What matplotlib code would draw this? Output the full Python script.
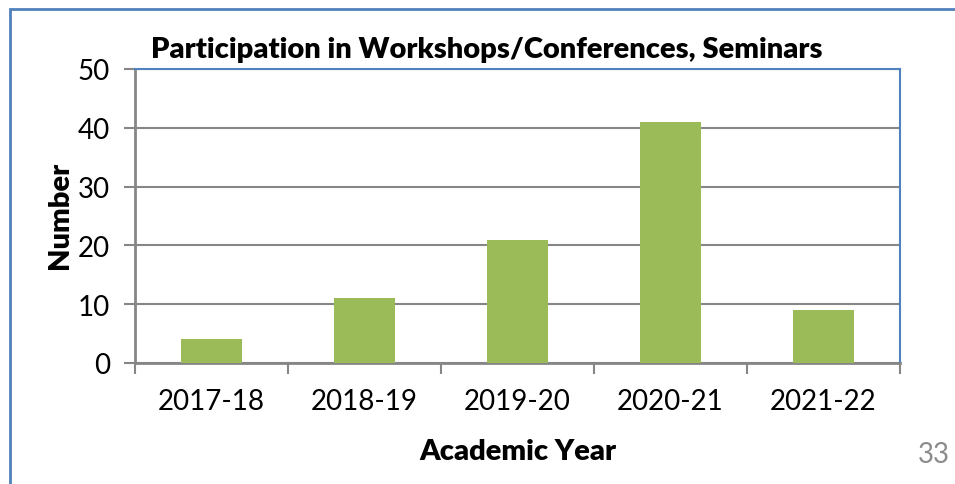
import matplotlib.pyplot as plt
from matplotlib.patches import Rectangle
import numpy as np

plt.rcParams['font.family'] = ['Lato', 'DejaVu Sans']

years = ['2017-18', '2018-19', '2019-20', '2020-21', '2021-22']
counts = [4, 11, 21, 41, 9]

green = '#9BBB59'
blue = '#4F81BD'
grey = '#868686'

W, H = 955, 485
fig = plt.figure(figsize=(W / 100, H / 100), dpi=100)
ax = fig.add_axes([135 / W, 1 - 364 / H, (900 - 135) / W, (364 - 70) / H])

x = np.arange(len(years))
ax.bar(x, counts, width=0.4, color=green, zorder=3)

ax.set_xlim(-0.5, len(years) - 0.5)
ax.set_ylim(0, 50)
ax.set_yticks(range(0, 51, 10))
ax.yaxis.grid(True, color=grey, linewidth=1.5, zorder=0)

# category labels in the middle, ticks on the boundaries
ax.set_xticks(x)
ax.set_xticklabels(years)
ax.set_xticks(np.arange(-0.5, len(years)), minor=True)
ax.tick_params(axis='x', which='major', length=0, pad=18, labelsize=20)
ax.tick_params(axis='x', which='minor', length=8, width=1.5, color=grey, direction='out')
ax.tick_params(axis='y', length=8, width=1.5, color=grey, direction='out', pad=10, labelsize=20)

for side in ['left', 'bottom']:
    ax.spines[side].set_color(grey)
    ax.spines[side].set_linewidth(2)
for side in ['top', 'right']:
    ax.spines[side].set_color(blue)
    ax.spines[side].set_linewidth(1.5)

fig.text(60 / W, 1 - 215 / H, 'Number', fontsize=21, fontweight='heavy',
         rotation=90, ha='center', va='center')
fig.text(518 / W, 1 - 452 / H, 'Academic Year', fontsize=21, fontweight='heavy',
         ha='center', va='center')
fig.text(487 / W, 1 - 50 / H, 'Participation in Workshops/Conferences, Seminars',
         fontsize=21, fontweight='heavy', ha='center', va='center')

# slide number in the corner
fig.text(918 / W, 1 - 455 / H, '33', fontsize=20, color='#8C8C8C', ha='left', va='center')

# outer frame of the chart object
fig.patches.append(Rectangle((10 / W, -0.1), 1.2, 1.1 - 10 / H, transform=fig.transFigure,
                             fill=False, edgecolor=blue, linewidth=2))

fig.savefig('out.png', dpi=100)
